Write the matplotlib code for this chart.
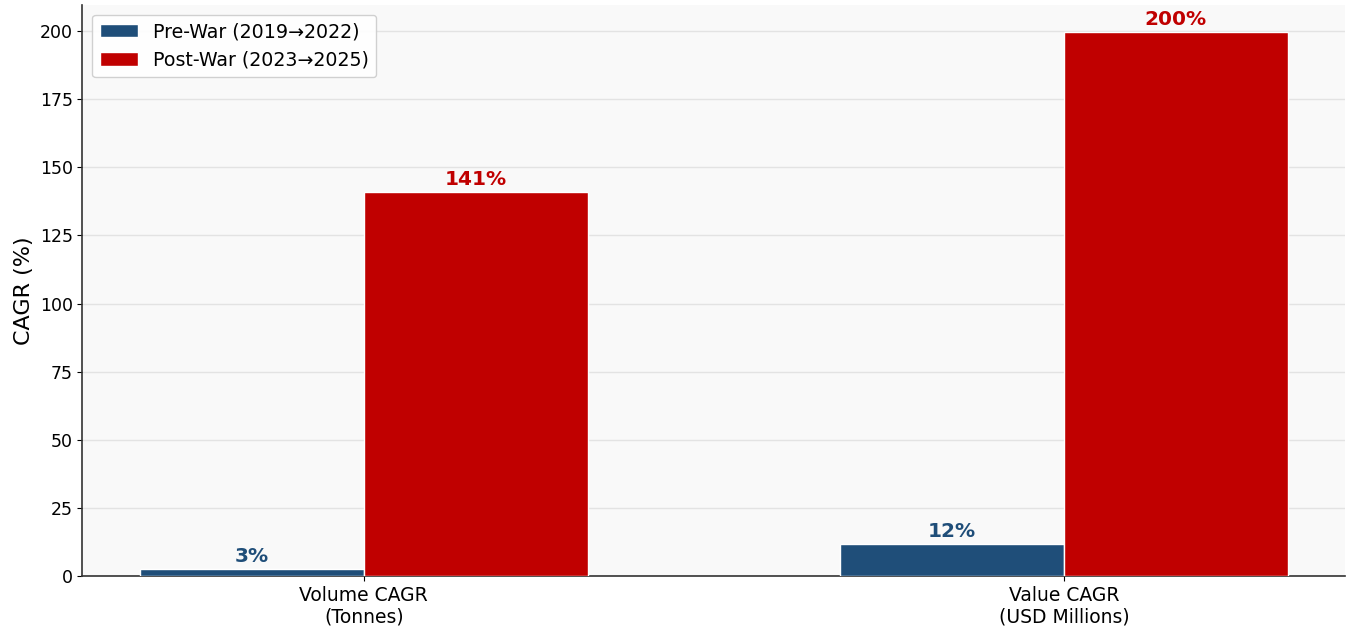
import matplotlib
matplotlib.use("Agg")
import matplotlib.pyplot as plt
import numpy as np

# data
categories = ["Volume CAGR\n(Tonnes)", "Value CAGR\n(USD Millions)"]
pre_war = [2.6, 11.7]
post_war = [140.9, 199.6]
series_names = ["Pre-War (2019\u21922022)", "Post-War (2023\u21922025)"]

blue = "#1f4e79"
red = "#c00000"

fig, ax = plt.subplots(figsize=(13.52, 6.41), dpi=100)
fig.subplots_adjust(left=0.061, right=0.995, bottom=0.101, top=0.992)
ax.set_facecolor("#f9f9f9")

x = np.arange(len(categories))
w = 0.32
b1 = ax.bar(x - w / 2, pre_war, w, color=blue, edgecolor="white", linewidth=1, label=series_names[0], zorder=3)
b2 = ax.bar(x + w / 2, post_war, w, color=red, edgecolor="white", linewidth=1, label=series_names[1], zorder=3)

# value labels on top of bars
for bars, col in [(b1, blue), (b2, red)]:
    for r in bars:
        h = r.get_height()
        ax.text(r.get_x() + r.get_width() / 2, h + 1.2, f"{h:.0f}%", ha="center", va="bottom",
                color=col, fontsize=14.5, fontweight="bold")

ax.set_xticks(x)
ax.set_xticklabels(categories, fontsize=13.5)
ax.tick_params(axis="y", labelsize=12.5)
ax.set_ylabel("CAGR (%)", fontsize=16)
ax.set_yticks(np.arange(0, 201, 25))
ax.set_ylim(0, 209.5)

ax.grid(axis="y", color="#e3e3e3", linewidth=1, zorder=0)
ax.set_axisbelow(True)
for s in ["top", "right"]:
    ax.spines[s].set_visible(False)
for s in ["left", "bottom"]:
    ax.spines[s].set_color("#333333")
    ax.spines[s].set_linewidth(1.2)

ax.legend(loc="upper left", fontsize=13.7, framealpha=0.9)

fig.savefig("out.png", dpi=100)
